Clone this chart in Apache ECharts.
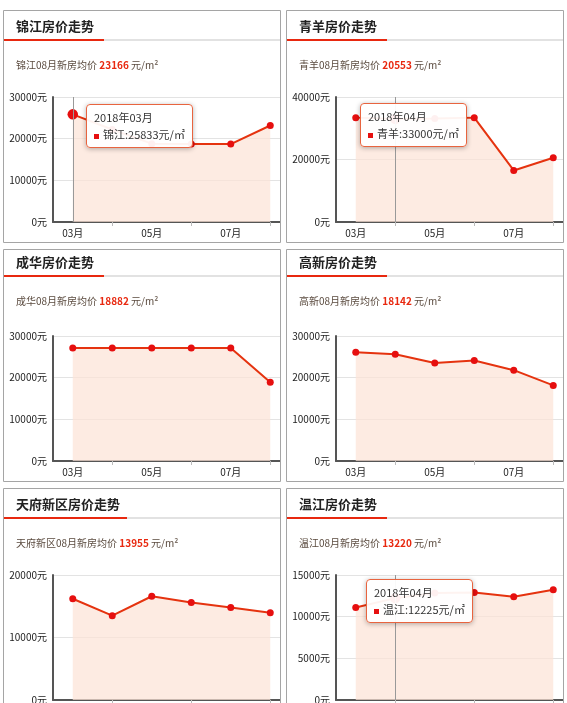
<!DOCTYPE html>
<html>
<head>
<meta charset="utf-8">
<script src="https://cdn.jsdelivr.net/npm/echarts@6/dist/echarts.min.js"></script>
<style>
  html, body { margin: 0; padding: 0; background: #fff; }
  .panel { position: absolute; width: 278px; height: 233px; overflow: hidden; }
  .chart { position: absolute; left: 0; top: 0; width: 300px; height: 233px; }
</style>
</head>
<body>
<div class="panel" style="left:3px;top:10px"><div id="p0" class="chart"></div></div>
<div class="panel" style="left:286px;top:10px"><div id="p1" class="chart"></div></div>
<div class="panel" style="left:3px;top:249px"><div id="p2" class="chart"></div></div>
<div class="panel" style="left:286px;top:249px"><div id="p3" class="chart"></div></div>
<div class="panel" style="left:3px;top:488px"><div id="p4" class="chart"></div></div>
<div class="panel" style="left:286px;top:488px"><div id="p5" class="chart"></div></div>
<script>
// 月份 & 区域
const months = ['03月', '04月', '05月', '06月', '07月', '08月'];
const districts = ['锦江', '青羊', '成华', '高新', '天府新区', '温江'];

// 各区新房均价 (元/m²)
const jinjiang = [25833, 22200, 18800, 18700, 18700, 23166];
const qingyang = [33400, 33000, 33100, 33400, 16500, 20553];
const chenghua = [27100, 27100, 27100, 27100, 27100, 18882];
const gaoxin = [26100, 25600, 23500, 24100, 21800, 18142];
const tianfu = [16200, 13500, 16600, 15600, 14800, 13955];
const wenjiang = [11100, 12225, 12850, 12900, 12400, 13220];

// y 轴刻度
const yMax = [30000, 40000, 30000, 30000, 20000, 15000];
const yStep = [10000, 20000, 10000, 10000, 10000, 5000];

// 提示框显示的月份 (null = 不显示)
const tipIndex = [0, 1, null, null, null, 1];

const allData = [jinjiang, qingyang, chenghua, gaoxin, tianfu, wenjiang];

const FONT = '"Noto Sans CJK SC", "Noto Sans", sans-serif';
const RED = '#e8280f';
const AREA = '#fce3d6';
const tipPos = [[83, 94], [74, 93], null, null, null, [80, 91]];
const headerShift = [0, 0, -3, -3, 0, 0];

function buildOption(i) {
  const name = districts[i];
  const data = allData[i];
  const last = data[data.length - 1];
  const dy = headerShift[i];
  const titleText = name + '房价走势';

  return {
    animation: false,
    textStyle: { fontFamily: FONT },
    graphic: [
      {
        type: 'rect',
        shape: { x: 0, y: 29 + dy, width: 278, height: 2 },
        style: { fill: '#e2e2e2' },
      },
      {
        type: 'rect',
        shape: { x: 0, y: 29 + dy, width: 32 + 11.5 * titleText.length, height: 2 },
        style: { fill: RED },
        z: 101,
      },
      {
        type: 'text',
        x: 13,
        y: 16 + dy,
        style: {
          text: titleText,
          font: 'bold 13px ' + FONT,
          fill: '#222',
          verticalAlign: 'middle',
        },
      },
      {
        type: 'text',
        x: 13,
        y: 55 + dy,
        style: {
          text: '{a|' + name + '08月新房均价 }{b|' + last + '}{a| 元/m²}',
          verticalAlign: 'middle',
          rich: {
            a: { fontSize: 10, fill: '#5a4a3e', fontFamily: FONT },
            b: { fontSize: 10, fontWeight: 'bold', fill: RED, fontFamily: FONT },
          },
        },
      },
      // 外框
      {
        type: 'rect',
        shape: { x: 0.5, y: 0.5, width: 277, height: 232 },
        style: { fill: null, stroke: '#a5a5a5', lineWidth: 1 },
        z: 200,
      },
    ],
    tooltip: {
      show: tipIndex[i] !== null,
      trigger: 'axis',
      alwaysShowContent: true,
      transitionDuration: 0,
      position: tipPos[i] || undefined,
      backgroundColor: 'rgba(255,255,255,0.94)',
      borderColor: '#e8643f',
      borderWidth: 1,
      padding: [4, 7],
      textStyle: { color: '#333', fontSize: 11, fontFamily: FONT },
      extraCssText: 'border-radius:4px;box-shadow:0 1px 5px rgba(0,0,0,0.3);line-height:17px;',
      axisPointer: { type: 'line', lineStyle: { color: '#999', width: 1, type: 'solid' } },
      formatter: (params) => {
        const p = params[0];
        return '2018年' + p.name + '<br/>' +
          '<span style="display:inline-block;width:5px;height:5px;background:#e60f0f;margin-right:4px;vertical-align:middle"></span>' +
          p.seriesName + ':' + p.value + '元/㎡';
      },
    },
    grid: { left: 50, top: 87, width: 237, height: 125, containLabel: false },
    xAxis: {
      type: 'category',
      data: months,
      boundaryGap: true,
      axisLine: { show: true, lineStyle: { color: '#555', width: 2 } },
      axisTick: {
        show: true,
        alignWithLabel: true,
        interval: (idx) => idx % 2 === 1,
        length: 4,
        lineStyle: { color: '#bbb' },
      },
      axisLabel: { interval: 1, fontSize: 10, color: '#222', margin: 6, fontFamily: FONT },
      splitLine: { show: false },
    },
    yAxis: {
      type: 'value',
      min: 0,
      max: yMax[i],
      interval: yStep[i],
      axisLine: { show: true, lineStyle: { color: '#555', width: 2 } },
      axisTick: { show: false },
      axisLabel: { formatter: (v) => v + '元', fontSize: 10, color: '#222', margin: 6, fontFamily: FONT },
      splitLine: { show: true, lineStyle: { color: '#e3e3e3', width: 1 } },
    },
    series: [
      {
        name: name,
        type: 'line',
        data: data,
        symbol: 'circle',
        symbolSize: 7,
        itemStyle: { color: '#e60f0f' },
        lineStyle: { color: '#e5330f', width: 2 },
        areaStyle: { color: AREA, opacity: 0.7 },
        emphasis: {
          scale: 1.5,
          itemStyle: { color: '#e60f0f' },
          lineStyle: { color: '#e5330f', width: 2 },
          areaStyle: { color: AREA, opacity: 0.7 },
        },
      },
    ],
  };
}

for (let i = 0; i < 6; i += 1) {
  const chart = echarts.init(document.getElementById('p' + i), null, { renderer: 'canvas' });
  chart.setOption(buildOption(i));
  if (tipIndex[i] !== null) {
    chart.dispatchAction({ type: 'showTip', seriesIndex: 0, dataIndex: tipIndex[i] });
  }
}
</script>
</body>
</html>
